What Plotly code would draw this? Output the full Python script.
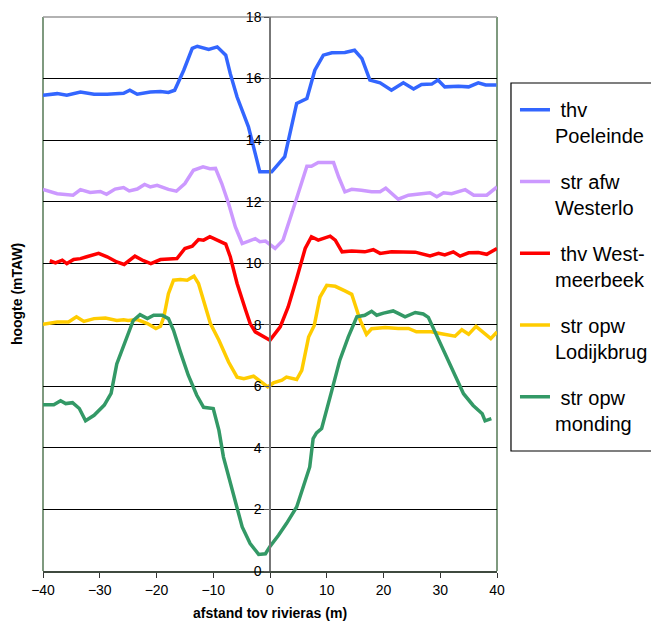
import plotly.graph_objects as go

# ---- data ----
poel_x = [-40, -37.5, -35.8, -33.4, -31, -28.7, -25.8, -24.7, -23.4, -21.1, -19.3, -17.9, -16.8, -15.2,
          -13.7, -12.8, -10.8, -9.3, -7.8, -7.0, -5.8, -3.8, -2.6, -1.8, 0.3, 2.6, 4.7, 6.5, 7.9, 9.4,
          10.9, 13.2, 14.9, 16.2, 17.6, 19.4, 21.4, 23.5, 25.3, 26.7, 28.5, 29.6, 30.8, 33.2, 35.0,
          36.7, 38.0, 39.9]
poel_y = [15.46, 15.51, 15.46, 15.56, 15.49, 15.49, 15.52, 15.62, 15.49, 15.56, 15.58, 15.55, 15.62, 16.27,
          16.98, 17.05, 16.95, 17.03, 16.76, 16.16, 15.40, 14.43, 13.56, 12.97, 12.97, 13.46, 15.19, 15.35,
          16.27, 16.76, 16.84, 16.85, 16.92, 16.65, 15.95, 15.86, 15.62, 15.86, 15.66, 15.81, 15.82, 15.95,
          15.73, 15.75, 15.73, 15.86, 15.79, 15.79]

west_x = [-40, -37.5, -34.7, -33.4, -31.7, -29.9, -28.8, -27.3, -25.8, -24.8, -23.4, -22.1, -21.1, -19.9,
          -17.9, -16.5, -15.0, -13.5, -11.8, -10.6, -9.6, -8.5, -7.3, -6.1, -4.9, -2.6, -1.8, -0.8, 0.9,
          2.3, 4.4, 6.5, 7.3, 8.5, 11.2, 12.1, 13.2, 14.4, 16.1, 17.9, 19.4, 20.4, 22.6, 24.4, 26.7,
          28.2, 29.4, 30.6, 32.0, 34.4, 35.9, 38.2, 40]
west_y = [12.40, 12.26, 12.21, 12.39, 12.30, 12.33, 12.24, 12.41, 12.46, 12.35, 12.41, 12.56, 12.48, 12.53,
          12.40, 12.34, 12.59, 13.02, 13.13, 13.07, 13.08, 12.59, 11.94, 11.18, 10.64, 10.80, 10.70, 10.72,
          10.48, 10.75, 11.94, 13.15, 13.15, 13.27, 13.27, 12.80, 12.32, 12.40, 12.37, 12.32, 12.32, 12.44,
          12.08, 12.21, 12.26, 12.29, 12.16, 12.29, 12.26, 12.39, 12.21, 12.21, 12.48]

meer_x = [-38.8, -37.8, -36.6, -35.8, -34.6, -33.4, -32.3, -30.2, -28.7, -27.0, -25.7, -23.8, -22.3, -21.0,
          -19.3, -16.4, -15.0, -13.7, -12.6, -11.7, -10.6, -9.2, -7.8, -7.0, -5.8, -4.3, -3.5, -2.6, -1.1,
          0.0, 1.8, 3.2, 4.7, 6.2, 7.3, 8.5, 10.6, 11.5, 12.7, 14.4, 16.7, 18.2, 19.4, 21.4, 25.6, 28.2,
          29.7, 30.8, 32.3, 33.5, 35.0, 36.7, 38.2, 40]
meer_y = [10.08, 10.01, 10.10, 9.99, 10.12, 10.15, 10.21, 10.32, 10.21, 10.04, 9.96, 10.23, 10.08, 9.99,
          10.12, 10.15, 10.48, 10.55, 10.77, 10.75, 10.86, 10.75, 10.62, 10.21, 9.34, 8.48, 8.04, 7.77, 7.61,
          7.50, 7.93, 8.58, 9.50, 10.48, 10.86, 10.75, 10.88, 10.75, 10.37, 10.40, 10.37, 10.44, 10.32, 10.37,
          10.36, 10.24, 10.32, 10.27, 10.37, 10.23, 10.34, 10.35, 10.29, 10.48]

lodi_x = [-40, -37.5, -35.5, -34.1, -32.8, -31.0, -29.0, -27.0, -25.8, -25.0, -23.4, -21.6, -20.1, -19.3,
          -18.7, -17.9, -17.0, -15.8, -14.6, -13.4, -12.6, -11.7, -10.5, -9.0, -7.3, -5.8, -4.6, -2.9, -1.1,
          -0.4, 0.6, 2.1, 2.9, 4.7, 5.6, 6.8, 7.8, 8.8, 10.0, 11.5, 13.2, 14.4, 15.9, 17.0, 17.9, 20.3,
          22.6, 24.4, 25.8, 28.4, 30.2, 32.6, 33.8, 35.0, 36.3, 37.4, 38.9, 40]
lodi_y = [8.02, 8.09, 8.09, 8.26, 8.11, 8.20, 8.22, 8.14, 8.16, 8.14, 8.17, 8.04, 7.88, 7.95,
          8.26, 9.01, 9.45, 9.47, 9.45, 9.58, 9.34, 8.80, 8.04, 7.50, 6.79, 6.30, 6.25, 6.33, 6.09,
          5.98, 6.11, 6.20, 6.30, 6.22, 6.52, 7.60, 7.98, 8.90, 9.28, 9.25, 9.10, 8.99, 8.14, 7.69, 7.87, 7.91,
          7.88, 7.88, 7.77, 7.77, 7.71, 7.63, 7.84, 7.69, 7.95, 7.77, 7.55, 7.77]

mond_x = [-40, -38.1, -36.9, -36.0, -34.8, -33.6, -32.5, -31.0, -29.2, -28.0, -27.0, -25.5, -24.1, -22.9,
          -21.6, -20.5, -19.0, -17.9, -17.0, -15.8, -14.4, -12.9, -11.7, -10.0, -9.0, -8.2, -7.0, -5.8, -4.9,
          -3.5, -2.0, -0.8, 0.0, 1.5, 2.9, 4.7, 5.9, 7.0, 7.6, 8.2, 9.1, 10.0, 10.9, 12.3, 13.8, 15.3,
          16.7, 17.9, 18.8, 20.0, 21.7, 22.6, 23.8, 25.6, 27.0, 27.9, 29.1, 30.8, 32.6, 34.1, 35.8, 36.4,
          37.4, 37.9, 39.0]
mond_y = [5.40, 5.40, 5.53, 5.44, 5.47, 5.28, 4.88, 5.06, 5.39, 5.77, 6.73, 7.44, 8.14, 8.33,
          8.20, 8.31, 8.31, 8.20, 7.82, 7.12, 6.36, 5.71, 5.32, 5.28, 4.57, 3.70, 2.84, 1.97, 1.43,
          0.89, 0.54, 0.56, 0.80, 1.16, 1.54, 2.08, 2.73, 3.38, 4.30, 4.49, 4.63, 5.22, 5.87, 6.85, 7.61, 8.26,
          8.31, 8.44, 8.31, 8.38, 8.45, 8.37, 8.26, 8.40, 8.35, 8.24, 7.77, 7.06, 6.41, 5.76, 5.38, 5.28,
          5.11, 4.88, 4.95]

series = [
    ("\u00a0thv<br>Poeleinde", poel_x, poel_y, "#3366FF"),
    ("\u00a0str afw<br>Westerlo", west_x, west_y, "#CC99FF"),
    ("\u00a0thv West-<br>meerbeek", meer_x, meer_y, "#FF0000"),
    ("\u00a0str opw<br>Lodijkbrug", lodi_x, lodi_y, "#FFCC00"),
    ("\u00a0str opw<br>monding", mond_x, mond_y, "#339966"),
]

x_ticks = [-40, -30, -20, -10, 0, 10, 20, 30, 40]
y_ticks = [0, 2, 4, 6, 8, 10, 12, 14, 16, 18]

FONT = "Liberation Sans, Arial, sans-serif"

fig = go.Figure()
for i, (name, xs, ys, col) in enumerate(series):
    fig.add_trace(go.Scatter(x=xs, y=ys, mode="lines", name=name, legendgroup=f"g{i}",
                             line=dict(color=col, width=3.5)))

fig.update_layout(
    width=651, height=624,
    margin=dict(l=43, r=154, t=17, b=53, autoexpand=False),
    paper_bgcolor="white", plot_bgcolor="white",
    font=dict(family=FONT, size=14, color="black"),
    showlegend=True,
    legend=dict(x=1.0396, y=0.868, xanchor="left", yanchor="top",
                borderwidth=0, bgcolor="rgba(0,0,0,0)",
                font=dict(family=FONT, size=20, color="black"),
                valign="top", tracegroupgap=16.8, traceorder="grouped",
                itemwidth=30),
    xaxis=dict(range=[-40, 40], tickvals=x_ticks, ticks="outside", ticklen=5,
               tickcolor="#333", showgrid=False, zeroline=False,
               showline=True, linecolor="#3f4a3f", linewidth=1.5,
               tickfont=dict(size=14), automargin=False),
    yaxis=dict(range=[0, 18], tickvals=y_ticks, ticks="outside", ticklen=5,
               tickcolor="#555", showgrid=True, gridcolor="black", gridwidth=1,
               zeroline=False, anchor="free", position=0.5,
               showline=True, linecolor="#777", linewidth=1.5,
               tickfont=dict(size=14), automargin=False),
    shapes=[
        dict(type="line", xref="paper", yref="paper", x0=0, x1=0, y0=0, y1=1,
             line=dict(color="#7f9a7f", width=2), layer="below"),
        dict(type="line", xref="paper", yref="paper", x0=1, x1=1, y0=0, y1=1,
             line=dict(color="#7f9a7f", width=2), layer="below"),
        dict(type="line", xref="paper", yref="paper", x0=0, x1=1, y0=1, y1=1,
             line=dict(color="#999999", width=1.5), layer="below"),
        # legend frame
        dict(type="rect", xref="paper", yref="paper", x0=1.0308, x1=1.345,
             y0=0.2166, y1=0.8809, line=dict(color="black", width=1.2),
             fillcolor="rgba(0,0,0,0)", layer="above"),
    ],
    annotations=[
        dict(text="<b>afstand tov rivieras (m)</b>", xref="paper", yref="paper",
             x=0.5, y=-0.076, xanchor="center", yanchor="middle", showarrow=False,
             font=dict(size=14)),
        dict(text="<b>hoogte (mTAW)</b>", xref="paper", yref="paper",
             x=-0.057, y=0.5, xanchor="center", yanchor="middle", showarrow=False,
             textangle=-90, font=dict(size=14)),
    ],
)

fig.write_html("out.html", config={"displayModeBar": False},
               post_script="document.body.style.margin='0px';")
